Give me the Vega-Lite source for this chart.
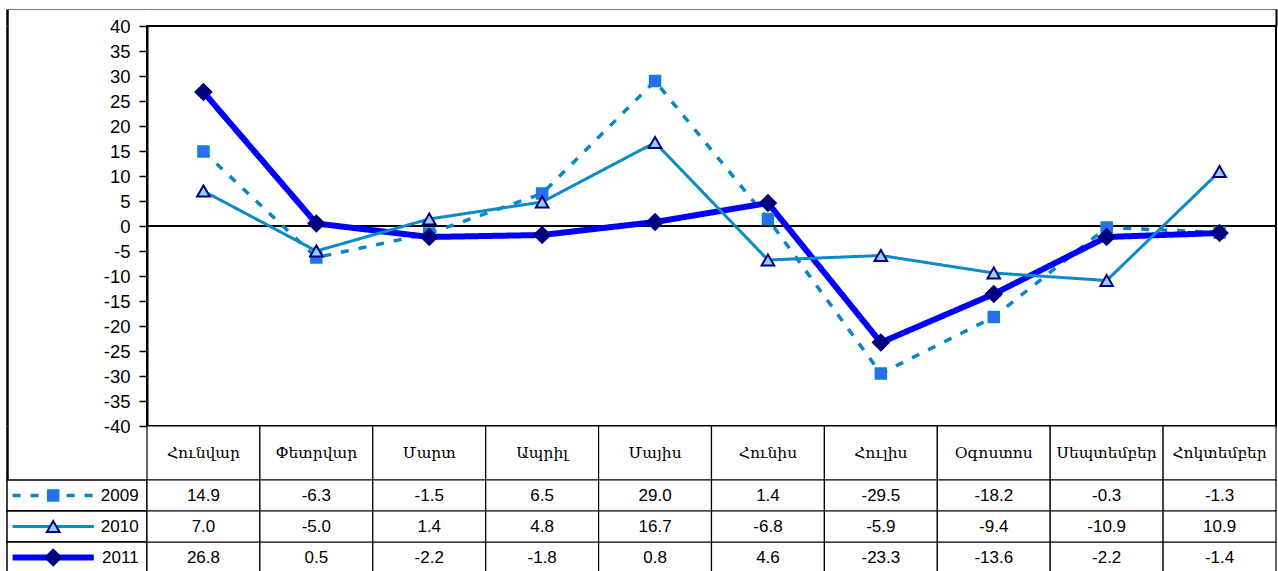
{
  "$schema": "https://vega.github.io/schema/vega-lite/v6.json",
  "padding": {"left": 6, "top": 9, "right": 0, "bottom": 0},
  "background": "white",
  "columns": 2,
  "spacing": 0,
  "bounds": "flush",
  "config": {
    "view": {"stroke": null},
    "font": "Liberation Sans",
    "concat": {"spacing": 0},
    "locale": {"number": {"decimal": ".", "thousands": ",", "grouping": [3], "currency": ["$", ""], "minus": "-"}}
  },
  "datasets": {
    "d": [
      {"month": "Հունվար", "year": "2009", "value": 14.9},
      {"month": "Փետրվար", "year": "2009", "value": -6.3},
      {"month": "Մարտ", "year": "2009", "value": -1.5},
      {"month": "Ապրիլ", "year": "2009", "value": 6.5},
      {"month": "Մայիս", "year": "2009", "value": 29.0},
      {"month": "Հունիս", "year": "2009", "value": 1.4},
      {"month": "Հուլիս", "year": "2009", "value": -29.5},
      {"month": "Օգոստոս", "year": "2009", "value": -18.2},
      {"month": "Սեպտեմբեր", "year": "2009", "value": -0.3},
      {"month": "Հոկտեմբեր", "year": "2009", "value": -1.3},
      {"month": "Հունվար", "year": "2011", "value": 26.8},
      {"month": "Փետրվար", "year": "2011", "value": 0.5},
      {"month": "Մարտ", "year": "2011", "value": -2.2},
      {"month": "Ապրիլ", "year": "2011", "value": -1.8},
      {"month": "Մայիս", "year": "2011", "value": 0.8},
      {"month": "Հունիս", "year": "2011", "value": 4.6},
      {"month": "Հուլիս", "year": "2011", "value": -23.3},
      {"month": "Օգոստոս", "year": "2011", "value": -13.6},
      {"month": "Սեպտեմբեր", "year": "2011", "value": -2.2},
      {"month": "Հոկտեմբեր", "year": "2011", "value": -1.4},
      {"month": "Հունվար", "year": "2010", "value": 7.0},
      {"month": "Փետրվար", "year": "2010", "value": -5.0},
      {"month": "Մարտ", "year": "2010", "value": 1.4},
      {"month": "Ապրիլ", "year": "2010", "value": 4.8},
      {"month": "Մայիս", "year": "2010", "value": 16.7},
      {"month": "Հունիս", "year": "2010", "value": -6.8},
      {"month": "Հուլիս", "year": "2010", "value": -5.9},
      {"month": "Օգոստոս", "year": "2010", "value": -9.4},
      {"month": "Սեպտեմբեր", "year": "2010", "value": -10.9},
      {"month": "Հոկտեմբեր", "year": "2010", "value": 10.9}
    ],
    "months": [
      {"month": "Հունվար"}, {"month": "Փետրվար"}, {"month": "Մարտ"}, {"month": "Ապրիլ"}, {"month": "Մայիս"},
      {"month": "Հունիս"}, {"month": "Հուլիս"}, {"month": "Օգոստոս"}, {"month": "Սեպտեմբեր"}, {"month": "Հոկտեմբեր"}
    ],
    "years": [{"year": "2009"}, {"year": "2010"}, {"year": "2011"}]
  },
  "data": {"name": "d"},
  "resolve": {"scale": {"x": "independent", "y": "independent", "color": "independent", "shape": "independent", "fill": "independent", "stroke": "independent", "strokeDash": "independent", "strokeWidth": "independent", "size": "independent"}},
  "concat": [
    {
      "width": 140, "height": 17,
      "data": {"name": "years"},
      "mark": {"type": "rule", "opacity": 0},
      "encoding": {
        "x": {"datum": 0, "type": "quantitative", "scale": {"domain": [0, 1]},
              "axis": {"orient": "top", "labels": false, "ticks": false, "title": null, "grid": false, "domainColor": "#777777", "domainWidth": 1}},
        "y": {"datum": 0, "type": "quantitative", "scale": {"domain": [0, 1]},
              "axis": {"labels": false, "ticks": false, "title": null, "grid": false, "domainColor": "black", "domainWidth": 2.5}}
      }
    },
    {
      "width": 1129, "height": 17,
      "data": {"name": "years"},
      "mark": {"type": "rule", "opacity": 0},
      "encoding": {
        "x": {"datum": 0, "type": "quantitative", "scale": {"domain": [0, 1]},
              "axis": {"orient": "top", "labels": false, "ticks": false, "title": null, "grid": false, "domainColor": "#777777", "domainWidth": 1}},
        "y": {"datum": 0, "type": "quantitative", "scale": {"domain": [0, 1]},
              "axis": {"orient": "right", "labels": false, "ticks": false, "title": null, "grid": false, "domainColor": "black", "domainWidth": 2}}
      }
    },
    {
      "width": 140, "height": 400,
      "data": {"name": "years"},
      "mark": {"type": "rule", "opacity": 0},
      "encoding": {
        "y": {"datum": 0, "type": "quantitative", "scale": {"domain": [0, 1]},
              "axis": {"labels": false, "ticks": false, "title": null, "grid": false, "domainColor": "black", "domainWidth": 2.5}}
      }
    },
    {
      "width": 1129, "height": 400,
      "view": {"stroke": "black", "strokeWidth": 2},
      "layer": [
        {
          "data": {"name": "years"},
          "mark": {"type": "rule", "color": "black", "strokeWidth": 1.5},
          "encoding": {"y": {"datum": 0, "type": "quantitative",
                  "scale": {"domain": [-40, 40], "nice": false, "zero": false},
                  "axis": {"values": [-40, -35, -30, -25, -20, -15, -10, -5, 0, 5, 10, 15, 20, 25, 30, 35, 40],
                           "title": null, "grid": false, "tickSize": 8, "tickColor": "black", "tickWidth": 1.5,
                           "domainColor": "black", "domainWidth": 2, "labelFontSize": 18.5, "labelFont": "Liberation Sans",
                           "labelColor": "black", "labelPadding": 9, "labelOverlap": false, "labelFlush": false}}}
        },
        {
          "mark": {"type": "line", "strokeCap": "butt"},
          "encoding": {
            "x": {"field": "month", "type": "nominal", "sort": null,
                  "scale": {"type": "point", "padding": 0.5, "domain": ["Հունվար", "Փետրվար", "Մարտ", "Ապրիլ", "Մայիս", "Հունիս", "Հուլիս", "Օգոստոս", "Սեպտեմբեր", "Հոկտեմբեր"]},
                  "axis": null},
            "y": {"field": "value", "type": "quantitative",
                  "scale": {"domain": [-40, 40], "nice": false, "zero": false},
                  "axis": {"values": [-40, -35, -30, -25, -20, -15, -10, -5, 0, 5, 10, 15, 20, 25, 30, 35, 40],
                           "title": null, "grid": false, "tickSize": 8, "tickColor": "black", "tickWidth": 1.5,
                           "domainColor": "black", "domainWidth": 2, "labelFontSize": 18.5, "labelFont": "Liberation Sans",
                           "labelColor": "black", "labelPadding": 9, "labelOverlap": false, "labelFlush": false}},
            "detail": {"field": "year", "type": "nominal"},
            "color": {"field": "year", "type": "nominal", "legend": null,
                      "scale": {"domain": ["2009", "2010", "2011"], "range": ["#0A86C6", "#0A8AC8", "#0000FF"]}},
            "strokeDash": {"field": "year", "type": "nominal", "legend": null,
                           "scale": {"domain": ["2009", "2010", "2011"], "range": [[8, 10], [1, 0], [1, 0]]}},
            "strokeWidth": {"field": "year", "type": "nominal", "legend": null,
                            "scale": {"type": "ordinal", "domain": ["2009", "2010", "2011"], "range": [3.5, 3, 6]}}
          }
        },
        {
          "mark": {"type": "point", "filled": true, "opacity": 1, "strokeWidth": 2},
          "encoding": {
            "x": {"field": "month", "type": "nominal", "sort": null, "axis": null},
            "y": {"field": "value", "type": "quantitative",
                  "axis": {"values": [-40, -35, -30, -25, -20, -15, -10, -5, 0, 5, 10, 15, 20, 25, 30, 35, 40],
                           "title": null, "grid": false, "tickSize": 8, "tickColor": "black", "tickWidth": 1.5,
                           "domainColor": "black", "domainWidth": 2, "labelFontSize": 18.5, "labelFont": "Liberation Sans",
                           "labelColor": "black", "labelPadding": 9, "labelOverlap": false, "labelFlush": false}},
            "shape": {"field": "year", "type": "nominal", "legend": null,
                      "scale": {"domain": ["2009", "2010", "2011"], "range": ["square", "triangle-up", "diamond"]}},
            "fill": {"field": "year", "type": "nominal", "legend": null,
                     "scale": {"domain": ["2009", "2010", "2011"], "range": ["#3366FF", "#99CCFF", "#000080"]}},
            "stroke": {"field": "year", "type": "nominal", "legend": null,
                       "scale": {"domain": ["2009", "2010", "2011"], "range": ["#0A86C6", "#000080", "#000080"]}},
            "size": {"field": "year", "type": "nominal", "legend": null,
                     "scale": {"type": "ordinal", "domain": ["2009", "2010", "2011"], "range": [110, 160, 250]}}
          }
        }
      ]
    },
    {
      "width": 140, "height": 54,
      "data": {"name": "years"},
      "mark": {"type": "rule", "opacity": 0},
      "encoding": {
        "y": {"datum": 0, "type": "quantitative", "scale": {"domain": [0, 1]},
              "axis": {"labels": false, "ticks": false, "title": null, "grid": false, "domainColor": "black", "domainWidth": 2.5}}
      }
    },
    {
      "width": 1129, "height": 54,
      "data": {"name": "months"},
      "layer": [
        {
          "mark": {"type": "rect", "fill": "white", "stroke": "black", "strokeWidth": 1.2},
          "encoding": {
            "x": {"field": "month", "type": "nominal", "sort": null,
                  "scale": {"type": "band", "paddingInner": 0, "paddingOuter": 0, "domain": ["Հունվար", "Փետրվար", "Մարտ", "Ապրիլ", "Մայիս", "Հունիս", "Հուլիս", "Օգոստոս", "Սեպտեմբեր", "Հոկտեմբեր"]},
                  "axis": null}
          }
        },
        {
          "mark": {"type": "text", "font": "DejaVu Serif", "fontSize": 15.5, "color": "black"},
          "encoding": {
            "x": {"field": "month", "type": "nominal", "sort": null},
            "text": {"field": "month", "type": "nominal"}
          }
        }
      ]
    },
    {
      "width": 140, "height": 93,
      "data": {"name": "years"},
      "layer": [
        {
          "mark": {"type": "rect", "fill": "white", "stroke": "black", "strokeWidth": 1.5},
          "encoding": {
            "y": {"field": "year", "type": "nominal",
                  "scale": {"type": "band", "paddingInner": 0, "paddingOuter": 0, "domain": ["2009", "2010", "2011"]},
                  "axis": null}
          }
        },
        {
          "mark": {"type": "rule", "strokeCap": "butt"},
          "encoding": {
            "y": {"field": "year", "type": "nominal"},
            "x": {"datum": 0.04, "type": "quantitative", "scale": {"domain": [0, 1], "nice": false, "zero": false}, "axis": null},
            "x2": {"datum": 0.62},
            "color": {"field": "year", "type": "nominal", "legend": null,
                      "scale": {"domain": ["2009", "2010", "2011"], "range": ["#0A86C6", "#0A8AC8", "#0000FF"]}},
            "strokeDash": {"field": "year", "type": "nominal", "legend": null,
                           "scale": {"domain": ["2009", "2010", "2011"], "range": [[8, 10], [1, 0], [1, 0]]}},
            "strokeWidth": {"field": "year", "type": "nominal", "legend": null,
                            "scale": {"type": "ordinal", "domain": ["2009", "2010", "2011"], "range": [3.5, 3, 6]}}
          }
        },
        {
          "mark": {"type": "point", "filled": true, "opacity": 1, "strokeWidth": 2},
          "encoding": {
            "y": {"field": "year", "type": "nominal"},
            "x": {"datum": 0.33, "type": "quantitative"},
            "shape": {"field": "year", "type": "nominal", "legend": null,
                      "scale": {"domain": ["2009", "2010", "2011"], "range": ["square", "triangle-up", "diamond"]}},
            "fill": {"field": "year", "type": "nominal", "legend": null,
                     "scale": {"domain": ["2009", "2010", "2011"], "range": ["#3366FF", "#99CCFF", "#000080"]}},
            "stroke": {"field": "year", "type": "nominal", "legend": null,
                       "scale": {"domain": ["2009", "2010", "2011"], "range": ["#0A86C6", "#000080", "#000080"]}},
            "size": {"field": "year", "type": "nominal", "legend": null,
                     "scale": {"type": "ordinal", "domain": ["2009", "2010", "2011"], "range": [110, 160, 250]}}
          }
        },
        {
          "mark": {"type": "text", "align": "right", "fontSize": 17, "font": "Liberation Sans", "color": "black"},
          "encoding": {
            "y": {"field": "year", "type": "nominal"},
            "x": {"datum": 0.94, "type": "quantitative"},
            "text": {"field": "year", "type": "nominal"}
          }
        }
      ]
    },
    {
      "width": 1129, "height": 93,
      "layer": [
        {
          "mark": {"type": "rect", "fill": "white", "stroke": "black", "strokeWidth": 1.2},
          "encoding": {
            "x": {"field": "month", "type": "nominal", "sort": null,
                  "scale": {"type": "band", "paddingInner": 0, "paddingOuter": 0, "domain": ["Հունվար", "Փետրվար", "Մարտ", "Ապրիլ", "Մայիս", "Հունիս", "Հուլիս", "Օգոստոս", "Սեպտեմբեր", "Հոկտեմբեր"]},
                  "axis": null},
            "y": {"field": "year", "type": "nominal",
                  "scale": {"type": "band", "paddingInner": 0, "paddingOuter": 0, "domain": ["2009", "2010", "2011"]},
                  "axis": null}
          }
        },
        {
          "mark": {"type": "text", "fontSize": 17, "font": "Liberation Sans", "color": "black"},
          "encoding": {
            "x": {"field": "month", "type": "nominal", "sort": null},
            "y": {"field": "year", "type": "nominal"},
            "text": {"field": "value", "type": "quantitative", "format": ".1f"}
          }
        }
      ]
    }
  ]
}
